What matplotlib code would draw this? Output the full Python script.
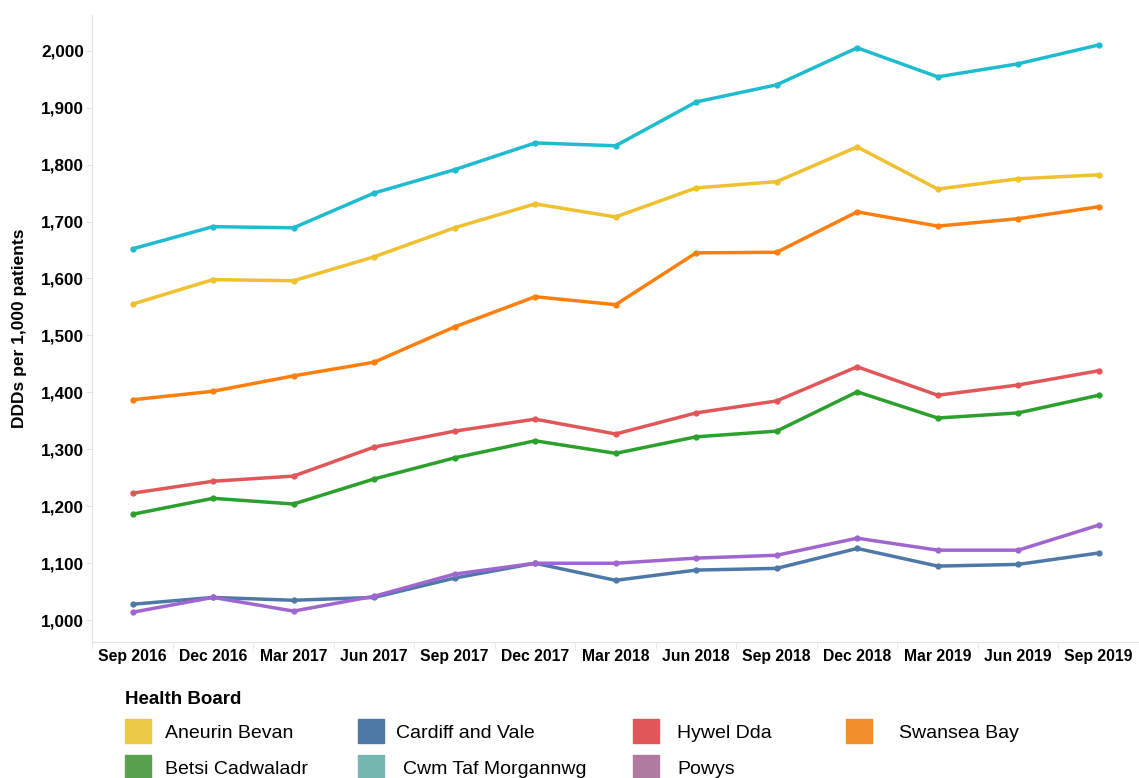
import numpy as np
import matplotlib.pyplot as plt
from matplotlib.patches import Rectangle
from matplotlib.ticker import FuncFormatter

quarters = ['Sep 2016', 'Dec 2016', 'Mar 2017', 'Jun 2017', 'Sep 2017', 'Dec 2017', 'Mar 2018',
            'Jun 2018', 'Sep 2018', 'Dec 2018', 'Mar 2019', 'Jun 2019', 'Sep 2019']

cwm_taf = [1652, 1691, 1689, 1750, 1791, 1838, 1833, 1910, 1940, 2005, 1954, 1977, 2010]
aneurin_bevan = [1555, 1598, 1596, 1638, 1689, 1731, 1708, 1759, 1770, 1831, 1757, 1775, 1782]
swansea_bay = [1387, 1402, 1429, 1453, 1515, 1568, 1554, 1645, 1646, 1717, 1692, 1705, 1726]
hywel_dda = [1223, 1244, 1253, 1304, 1332, 1353, 1327, 1364, 1385, 1445, 1395, 1413, 1438]
betsi = [1186, 1214, 1204, 1248, 1285, 1315, 1293, 1322, 1332, 1401, 1355, 1364, 1395]
powys = [1014, 1040, 1016, 1042, 1081, 1100, 1100, 1109, 1114, 1144, 1123, 1123, 1167]
cardiff = [1028, 1040, 1035, 1040, 1074, 1100, 1070, 1088, 1091, 1126, 1095, 1098, 1118]

plt.rcParams['font.family'] = ['Liberation Sans', 'DejaVu Sans']

fig = plt.figure(figsize=(11.39, 7.78), dpi=100)
ax = fig.add_axes([0.081, 0.175, 0.919, 0.806])

x = np.arange(len(quarters))
lines = [
    (cwm_taf, '#1fbccf'),
    (aneurin_bevan, '#efc02f'),
    (swansea_bay, '#ff7f0e'),
    (hywel_dda, '#e15759'),
    (betsi, '#2ca02c'),
    (cardiff, '#4e79a7'),
    (powys, '#a066cf'),
]
for vals, col in lines:
    ax.plot(x, vals, color=col, lw=2.5, marker='o', ms=3.5, solid_capstyle='round')

ax.set_xlim(-0.48, 12.46)
ax.set_ylim(962, 2063)
ax.set_yticks(range(1000, 2001, 100))
ax.yaxis.set_major_formatter(FuncFormatter(lambda v, p: f'{int(v):,}'))
ax.set_xticks(x)
ax.set_xticklabels(quarters)
ax.set_xticks(np.arange(-0.5, 12.6, 1), minor=True)
ax.tick_params(axis='x', which='major', length=0, pad=5)
ax.tick_params(axis='x', which='minor', length=6, color='#e6e6e6')
ax.tick_params(axis='y', length=4, color='#e3e3e3', pad=2)
for lab in ax.get_xticklabels():
    lab.set_fontweight('bold')
    lab.set_fontsize(11.3)
for lab in ax.get_yticklabels():
    lab.set_fontweight('bold')
    lab.set_fontsize(12.3)

for s in ['top', 'right']:
    ax.spines[s].set_visible(False)
ax.spines['left'].set_color('#e3e3e3')
ax.spines['bottom'].set_color('#e3e3e3')

fig.text(0.017, 1 - 328 / 778, 'DDDs per 1,000 patients', rotation=90, fontsize=12.5,
         fontweight='bold', ha='center', va='center')

# legend
W, H = 1139, 778
fig.text(125 / W, 1 - 700 / H, 'Health Board', fontsize=13.5, fontweight='bold', va='center')
legend_items = [
    ('Aneurin Bevan', '#edc948', 125, 165, 731),
    ('Cardiff and Vale', '#4e79a7', 358, 396, 731),
    ('Hywel Dda', '#e15759', 633, 677, 731),
    ('Swansea Bay', '#f28e2b', 846, 899, 731),
    ('Betsi Cadwaladr', '#59a14f', 125, 165, 767),
    ('Cwm Taf Morgannwg', '#76b7b2', 358, 403, 767),
    ('Powys', '#b07aa1', 633, 677, 767),
]
for name, col, sx, tx, cy in legend_items:
    fig.patches.append(Rectangle((sx / W, 1 - (cy + 12) / H), 26 / W, 24 / H,
                                 transform=fig.transFigure, color=col))
    fig.text(tx / W, 1 - (cy + 3) / H, name, fontsize=14, va='center')

fig.savefig('out.png', dpi=100)
